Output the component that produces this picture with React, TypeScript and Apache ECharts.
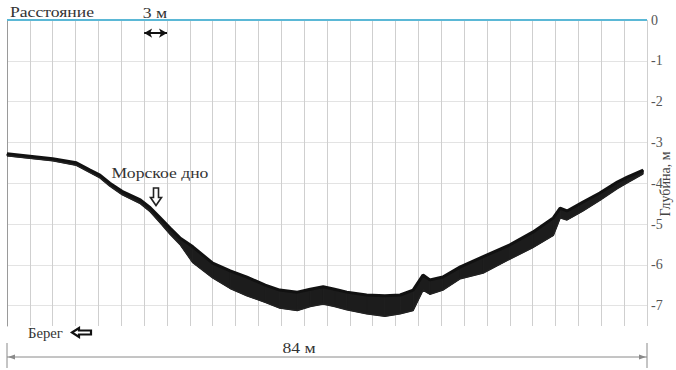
import React, { useEffect, useRef } from "react";
import * as echarts from "echarts";

// Distance along the profile, m
const distance = [0, 3, 6, 9.1, 10.9, 12.2, 13.5, 15.1, 17.5, 18.8, 20.1, 21.4, 22.7, 24.4, 27, 29.3, 31.5, 33.9, 35.8, 38.1, 39.8, 41.5, 43, 44.6, 47.2, 49.6, 51.6, 53.3, 54.6, 55.5, 57.2, 59.5, 62.5, 66, 69, 71.7, 72.6, 73.5, 75.6, 77.8, 80.1, 81.4, 83.5];
// Upper edge of the sea-bed echo, depth in m
const depthTop = [3.28, 3.34, 3.4, 3.5, 3.68, 3.8, 4.0, 4.2, 4.41, 4.6, 4.85, 5.1, 5.34, 5.56, 5.96, 6.15, 6.3, 6.5, 6.62, 6.67, 6.6, 6.54, 6.6, 6.67, 6.74, 6.76, 6.74, 6.62, 6.25, 6.37, 6.3, 6.05, 5.8, 5.51, 5.2, 4.85, 4.61, 4.68, 4.46, 4.24, 3.97, 3.85, 3.68];
// Lower edge of the sea-bed echo, depth in m
const depthBottom = [3.33, 3.39, 3.45, 3.56, 3.74, 3.87, 4.07, 4.28, 4.5, 4.7, 4.97, 5.25, 5.5, 5.95, 6.32, 6.58, 6.76, 6.92, 7.06, 7.12, 7.02, 6.96, 7.02, 7.1, 7.2, 7.26, 7.2, 7.12, 6.62, 6.72, 6.62, 6.34, 6.2, 5.86, 5.58, 5.28, 4.85, 4.9, 4.68, 4.42, 4.13, 3.99, 3.77];
// Depth tick labels (m)
const depthTicks = [0, 1, 2, 3, 4, 5, 6, 7];

const SERIF = "Liberation Serif, Times New Roman, DejaVu Serif, serif";

export default function App() {
  const ref = useRef<HTMLDivElement>(null);
  useEffect(() => {
    document.body.style.margin = "0";
    const chart = echarts.init(ref.current!, null, { renderer: "svg" });
    const topData = distance.map((x, i) => [x, depthTop[i]]);
    const bottomData = distance.map((x, i) => [x, depthBottom[i]]);
    const bandData = distance.slice(0, -1).map((x, i) => [x, depthTop[i], depthBottom[i], distance[i + 1], depthTop[i + 1], depthBottom[i + 1]]);
    const txt = (text: string, x: number, y: number, align = "center", sx = 1.26) => ({
      type: "text",
      x,
      y,
      scaleX: sx,
      z: 100,
      style: { text, fontFamily: SERIF, fontSize: 14, fill: "#333", align, verticalAlign: "middle" },
    });
    chart.setOption({
      animation: false,
      backgroundColor: "#ffffff",
      grid: { left: 7, right: 29, top: 20, bottom: 44, containLabel: false },
      xAxis: {
        type: "value",
        min: 0,
        max: 84,
        interval: 3,
        axisLabel: { show: false },
        axisLine: { show: false },
        axisTick: { show: false },
        splitLine: { show: true, lineStyle: { color: "#cfcfcf", width: 1 } },
      },
      yAxis: {
        type: "value",
        position: "right",
        inverse: true,
        min: 0,
        max: 7.5,
        interval: 1,
        axisLine: { show: true, lineStyle: { color: "#9a9a9a", width: 1 } },
        axisTick: { show: false },
        axisLabel: {
          show: true,
          margin: 4,
          showMaxLabel: false,
          color: "#555",
          fontFamily: SERIF,
          fontSize: 14,
          formatter: (v: number) =>
            depthTicks.includes(v) ? (v === 0 ? "0" : "-" + v) : "",
        },
        splitLine: { show: true, showMaxLine: false, lineStyle: { color: "#e3e3e3", width: 1 } },
      },
      series: [
        {
          type: "custom",
          data: bandData,
          renderItem: (params: any, api: any) => {
            const p1 = api.coord([api.value(0), api.value(1)]);
            const p2 = api.coord([api.value(3), api.value(4)]);
            const p3 = api.coord([api.value(3), api.value(5)]);
            const p4 = api.coord([api.value(0), api.value(2)]);
            return {
              type: "polygon",
              shape: { points: [p1, p2, p3, p4] },
              style: { fill: "#1c1c1c", stroke: "#1c1c1c", lineWidth: 1 },
            };
          },
          silent: true,
          z: 2,
        },
        {
          type: "line",
          data: topData,
          symbol: "none",
          lineStyle: { color: "#111", width: 3 },
          z: 3,
          markLine: {
            silent: true,
            symbol: "none",
            label: { show: false },
            lineStyle: { color: "#5bb8d6", width: 2, type: "solid" },
            data: [{ yAxis: 0 }],
          },
        },
        {
          type: "line",
          data: bottomData,
          symbol: "none",
          lineStyle: { color: "#222", width: 1.5 },
          z: 3,
          markLine: {
            silent: true,
            symbol: ["arrow", "arrow"],
            symbolSize: [7, 8],
            label: { show: false },
            lineStyle: { color: "#111", width: 2, type: "solid" },
            data: [[{ coord: [18, 0.32] }, { coord: [21, 0.32] }]],
          },
        },
      ],
      graphic: [
        txt("Расстояние", 10, 12, "left"),
        txt("3 м", 155, 13),
        txt("Морское дно", 160, 173),
        {
          type: "polygon",
          z: 100,
          shape: { points: [[153.5, 188], [158.5, 188], [158.5, 197.5], [161.5, 197.5], [156, 205.5], [150.5, 197.5], [153.5, 197.5]] },
          style: { fill: "#fff", stroke: "#222", lineWidth: 1.6 },
        },
        txt("Берег", 28, 333, "left", 1.05),
        {
          type: "polygon",
          z: 100,
          shape: { points: [[72, 332.5], [79, 328], [79, 330.5], [91, 330.5], [91, 334.5], [79, 334.5], [79, 337]] },
          style: { fill: "#fff", stroke: "#111", lineWidth: 2.2 },
        },
        { type: "line", shape: { x1: 7, y1: 357, x2: 647, y2: 357 }, style: { stroke: "#8a8a8a", lineWidth: 1 } },
        { type: "line", shape: { x1: 7, y1: 343, x2: 7, y2: 368 }, style: { stroke: "#8a8a8a", lineWidth: 1 } },
        { type: "line", shape: { x1: 647, y1: 343, x2: 647, y2: 368 }, style: { stroke: "#8a8a8a", lineWidth: 1 } },
        { type: "polygon", shape: { points: [[8, 357], [15, 354.5], [15, 359.5]] }, style: { fill: "#8a8a8a" } },
        { type: "polygon", shape: { points: [[646, 357], [639, 354.5], [639, 359.5]] }, style: { fill: "#8a8a8a" } },
        txt("84 м", 299, 348),
        { type: "text", x: 665, y: 184, rotation: Math.PI / 2, style: { text: "Глубина, м", fontFamily: SERIF, fontSize: 14, fill: "#444", align: "center", verticalAlign: "middle" } },
      ],
    });
    return () => chart.dispose();
  }, []);
  return <div ref={ref} style={{ width: 676, height: 370 }} />;
}
